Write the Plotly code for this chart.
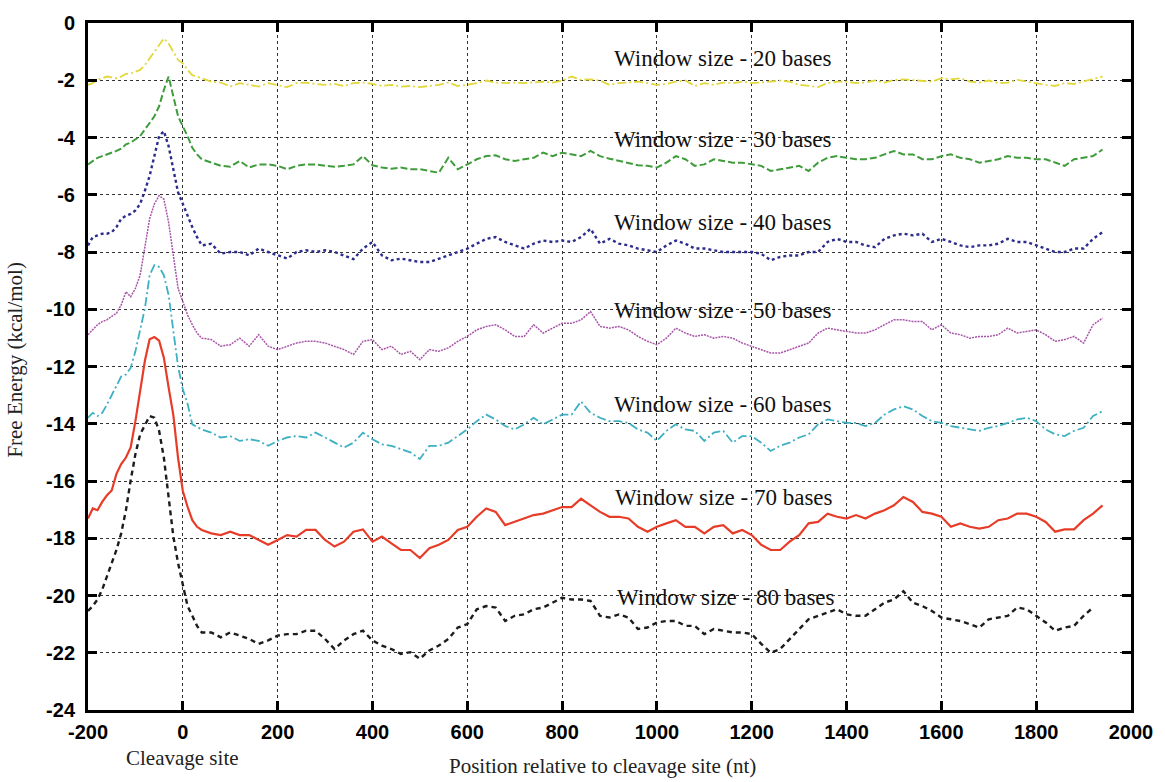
import plotly.graph_objects as go

# Positions relative to the cleavage site (nt): 10-nt steps around the peak, 20-nt steps after
POS_NEAR = list(range(-200, 41, 10))
POS_FAR = list(range(60, 1941, 20))
POSITIONS = POS_NEAR + POS_FAR

W20 = [-2.16, -2.10, -1.99, -1.93, -1.87, -1.90, -1.93, -1.87, -1.78, -1.76,
       -1.70, -1.64, -1.47, -1.24, -1.01, -0.77, -0.54, -0.72, -1.01, -1.29,
       -1.41, -1.64, -1.82, -1.87, -1.93,
       -2.05, -2.08, -2.22, -2.10, -2.16, -2.22, -2.10, -2.16, -2.24, -2.10,
       -2.08, -2.13, -2.16, -2.13, -2.20, -2.10, -2.08, -2.13, -2.20, -2.16,
       -2.22, -2.20, -2.24, -2.20, -2.16, -2.08, -2.20, -2.16, -2.10, -2.01,
       -2.08, -2.10, -2.08, -2.10, -2.08, -2.05, -2.08, -2.01, -1.87, -1.99,
       -1.97, -2.01, -2.16, -2.10, -2.08, -2.05, -2.10, -2.16, -2.13, -2.05,
       -2.01, -2.20, -2.10, -2.16, -2.08, -2.10, -2.05, -2.10, -2.08, -2.05,
       -2.01, -2.05, -2.16, -2.20, -2.24, -2.10, -2.05, -2.05, -2.10, -2.08,
       -2.01, -2.08, -1.99, -1.97, -1.99, -2.01, -2.05, -1.93, -1.97, -1.93,
       -2.05, -2.08, -2.01, -2.10, -2.08, -1.99, -2.05, -2.10, -2.16, -2.20,
       -2.10, -2.13, -2.05, -1.97, -1.87]

W30 = [-4.94, -4.82, -4.71, -4.65, -4.59, -4.55, -4.47, -4.39, -4.24, -4.18,
       -4.07, -3.95, -3.72, -3.49, -3.26, -2.91, -2.34, -1.87, -2.57, -3.26,
       -3.61, -3.95, -4.36, -4.59, -4.76,
       -4.88, -4.99, -5.02, -4.82, -5.05, -4.94, -4.94, -4.99, -5.11, -4.99,
       -4.94, -4.94, -4.99, -5.02, -4.99, -4.94, -4.65, -4.97, -5.05, -5.09,
       -5.05, -5.11, -5.11, -5.17, -5.23, -4.71, -5.11, -4.94, -4.76, -4.65,
       -4.62, -4.76, -4.82, -4.76, -4.71, -4.53, -4.65, -4.53, -4.59, -4.65,
       -4.47, -4.65, -4.74, -4.82, -4.88, -4.97, -4.99, -5.05, -4.88, -4.65,
       -4.76, -4.99, -4.94, -4.76, -4.82, -4.88, -4.88, -4.94, -4.99, -5.17,
       -5.11, -5.05, -4.99, -5.17, -4.88, -4.71, -4.65, -4.71, -4.76, -4.76,
       -4.71, -4.59, -4.47, -4.59, -4.59, -4.76, -4.76, -4.65, -4.59, -4.71,
       -4.76, -4.88, -4.82, -4.76, -4.65, -4.71, -4.71, -4.76, -4.76, -4.88,
       -4.99, -4.76, -4.71, -4.65, -4.42]

W40 = [-7.77, -7.48, -7.42, -7.36, -7.36, -7.31, -7.13, -6.84, -6.73, -6.67,
       -6.55, -6.32, -5.86, -5.34, -4.65, -3.95, -3.78, -4.30, -5.11, -5.92,
       -6.32, -6.73, -7.13, -7.48, -7.77,
       -7.71, -8.06, -8.00, -8.00, -8.12, -7.88, -8.00, -8.12, -8.23, -8.00,
       -7.94, -8.00, -7.94, -8.00, -8.12, -8.25, -7.88, -7.65, -8.12, -8.29,
       -8.23, -8.29, -8.35, -8.35, -8.23, -8.12, -8.00, -7.88, -7.71, -7.54,
       -7.48, -7.65, -7.77, -7.88, -7.71, -7.60, -7.65, -7.60, -7.65, -7.48,
       -7.19, -7.71, -7.54, -7.71, -7.77, -7.88, -7.94, -8.00, -7.77, -7.60,
       -7.71, -7.88, -7.88, -7.94, -8.00, -8.00, -8.00, -8.00, -8.06, -8.29,
       -8.17, -8.12, -8.12, -8.00, -8.00, -7.65, -7.54, -7.65, -7.65, -7.77,
       -7.83, -7.54, -7.42, -7.36, -7.42, -7.36, -7.65, -7.54, -7.65, -7.77,
       -7.83, -7.77, -7.77, -7.71, -7.54, -7.65, -7.65, -7.77, -7.88, -8.00,
       -8.00, -7.88, -7.88, -7.54, -7.31]

W50 = [-10.89, -10.72, -10.54, -10.43, -10.37, -10.25, -10.14, -9.85, -9.39, -9.56,
       -9.27, -8.81, -7.77, -6.84, -6.32, -6.03, -6.15, -6.96, -8.12, -9.27,
       -9.73, -10.20, -10.54, -10.83, -11.01,
       -11.06, -11.29, -11.24, -11.01, -11.29, -10.89, -11.29, -11.41, -11.29, -11.18,
       -11.12, -11.12, -11.18, -11.29, -11.41, -11.58, -11.12, -11.06, -11.41, -11.29,
       -11.58, -11.47, -11.76, -11.41, -11.47, -11.35, -11.12, -10.95, -10.72, -10.60,
       -10.54, -10.72, -10.95, -10.95, -10.54, -10.83, -10.66, -10.49, -10.49, -10.37,
       -10.08, -10.60, -10.66, -10.60, -10.72, -10.95, -11.12, -11.24, -11.01, -10.66,
       -10.83, -10.95, -10.89, -11.01, -10.95, -11.01, -11.18, -11.29, -11.41, -11.53,
       -11.53, -11.41, -11.29, -11.18, -10.83, -10.66, -10.72, -10.77, -10.83, -10.83,
       -10.72, -10.54, -10.37, -10.37, -10.43, -10.43, -10.72, -10.54, -10.83, -10.89,
       -11.01, -10.95, -10.95, -10.89, -10.66, -10.83, -10.77, -10.72, -10.89, -11.12,
       -11.06, -10.95, -11.18, -10.54, -10.31]

W60 = [-13.79, -13.62, -13.73, -13.62, -13.33, -12.99, -12.64, -12.35, -12.28, -12.05,
       -11.47, -10.77, -9.97, -8.81, -8.46, -8.52, -8.81, -9.50, -10.80, -12.00,
       -12.80, -13.30, -14.02, -14.10, -14.20,
       -14.31, -14.48, -14.43, -14.60, -14.54, -14.60, -14.77, -14.60, -14.48, -14.43,
       -14.48, -14.31, -14.48, -14.66, -14.83, -14.66, -14.31, -14.54, -14.72, -14.77,
       -14.89, -15.00, -15.23, -14.77, -14.77, -14.66, -14.43, -14.20, -13.91, -13.68,
       -13.85, -14.08, -14.20, -14.02, -13.79, -14.02, -13.85, -13.68, -13.68, -13.22,
       -13.62, -13.79, -13.91, -13.91, -13.97, -14.20, -14.31, -14.60, -14.25, -14.02,
       -14.20, -14.25, -14.60, -14.31, -14.25, -14.66, -14.43, -14.43, -14.66, -14.95,
       -14.77, -14.66, -14.48, -14.37, -14.02, -13.85, -13.91, -13.97, -13.97, -14.08,
       -13.97, -13.68, -13.50, -13.39, -13.50, -13.73, -13.91, -13.97, -14.08, -14.14,
       -14.20, -14.25, -14.14, -14.08, -13.97, -13.85, -13.79, -13.91, -14.20, -14.37,
       -14.43, -14.25, -14.14, -13.73, -13.56]

W70 = [-17.31, -16.96, -17.02, -16.73, -16.50, -16.33, -15.75, -15.41, -15.18, -14.83,
       -13.91, -12.87, -11.80, -11.05, -10.97, -11.10, -11.69, -12.73, -13.70, -15.20,
       -16.35, -16.90, -17.37, -17.60, -17.71,
       -17.83, -17.89, -17.77, -17.89, -17.89, -18.06, -18.23, -18.06, -17.89, -17.94,
       -17.71, -17.71, -18.06, -18.29, -18.12, -17.77, -17.69, -18.12, -17.94, -18.18,
       -18.41, -18.41, -18.69, -18.35, -18.23, -18.06, -17.71, -17.60, -17.25, -16.96,
       -17.08, -17.54, -17.43, -17.31, -17.19, -17.14, -17.02, -16.91, -16.91, -16.62,
       -16.85, -17.08, -17.25, -17.25, -17.31, -17.60, -17.77, -17.60, -17.48, -17.37,
       -17.60, -17.60, -17.83, -17.60, -17.54, -17.83, -17.71, -17.89, -18.23, -18.41,
       -18.41, -18.12, -17.89, -17.48, -17.43, -17.14, -17.25, -17.31, -17.19, -17.31,
       -17.14, -17.02, -16.85, -16.56, -16.73, -17.08, -17.14, -17.25, -17.60, -17.48,
       -17.60, -17.66, -17.60, -17.37, -17.31, -17.14, -17.14, -17.25, -17.43, -17.77,
       -17.69, -17.69, -17.37, -17.14, -16.85]

W80 = [-20.54, -20.37, -20.14, -19.79, -19.33, -18.87, -18.41, -17.83, -17.02, -15.98,
       -15.06, -14.37, -14.02, -13.73, -13.79, -14.25, -15.18, -16.56, -17.94, -18.87,
       -19.67, -20.37, -20.71, -21.06, -21.29,
       -21.29, -21.46, -21.29, -21.40, -21.52, -21.69, -21.57, -21.40, -21.35, -21.35,
       -21.23, -21.23, -21.52, -21.87, -21.57, -21.35, -21.23, -21.57, -21.75, -21.87,
       -22.04, -21.98, -22.21, -21.92, -21.75, -21.52, -21.12, -21.00, -20.48, -20.37,
       -20.42, -20.89, -20.71, -20.66, -20.48, -20.42, -20.25, -20.08, -20.14, -20.14,
       -20.19, -20.71, -20.77, -20.66, -20.77, -21.17, -21.12, -20.94, -20.89, -20.89,
       -21.06, -21.06, -21.35, -21.17, -21.23, -21.29, -21.29, -21.35, -21.69, -22.00,
       -21.87, -21.52, -21.17, -20.83, -20.71, -20.60, -20.48, -20.66, -20.71, -20.71,
       -20.48, -20.25, -20.14, -19.85, -20.25, -20.37, -20.54, -20.77, -20.83, -20.89,
       -21.00, -21.12, -20.83, -20.77, -20.71, -20.42, -20.48, -20.71, -20.94, -21.23,
       -21.12, -21.06, -20.71, -20.42]

SERIES = [
    ("Window size - 20 bases", W20, "#e2d83c", "9px,3px,2px,3px", 1.8),
    ("Window size - 30 bases", W30, "#3f9c3a", "7px,3px", 2.0),
    ("Window size - 40 bases", W40, "#2c2c8c", "3px,3px", 2.4),
    ("Window size - 50 bases", W50, "#a855a8", "2px,1px", 1.5),
    ("Window size - 60 bases", W60, "#3eb0c4", "9px,3px,2px,3px", 1.8),
    ("Window size - 70 bases", W70, "#e63c28", "solid", 2.2),
    ("Window size - 80 bases", W80, "#1c1c1c", "5px,4px", 2.4),
]

# Label anchor (left edge x, centre y) for each series
LABEL_X = [905, 905, 905, 905, 905, 908, 912]
LABEL_Y = [-1.25, -4.08, -6.97, -10.03, -13.34, -16.57, -20.08]

X_TICKS = list(range(-200, 2001, 200))
Y_TICKS = list(range(-24, 1, 2))
X_TICK_TEXT = [str(v) for v in X_TICKS]
Y_TICK_TEXT = [str(v) for v in Y_TICKS]

SERIF = "Liberation Serif, Times New Roman, serif"

fig = go.Figure()
for name, vals, color, dash, width in SERIES:
    fig.add_trace(go.Scatter(
        x=POSITIONS[:len(vals)], y=vals, mode="lines", name=name,
        line=dict(color=color, dash=dash, width=width),
    ))

for (name, *_), lx, ly in zip(SERIES, LABEL_X, LABEL_Y):
    fig.add_annotation(x=lx, y=ly, xref="x", yref="y", text=name,
                       showarrow=False, xanchor="left", yanchor="middle",
                       font=dict(family=SERIF, size=23, color="#111"))

tick_font = dict(family="Liberation Sans, Arial, sans-serif",
                 size=20, color="#000", weight="bold")
axis_common = dict(showline=True, linecolor="#000", linewidth=3, mirror="ticks",
                   ticks="inside", ticklen=9, tickwidth=3, tickcolor="#000",
                   showgrid=True, gridcolor="#333", griddash="dot", gridwidth=1.3,
                   zeroline=False, tickfont=tick_font)

fig.update_xaxes(range=[-200, 2000], tickvals=X_TICKS, ticktext=X_TICK_TEXT,
                 ticklabelstandoff=2, **axis_common)
fig.update_yaxes(range=[-24, 0], tickvals=Y_TICKS, ticktext=Y_TICK_TEXT,
                 ticklabelstandoff=6, **axis_common)

fig.add_annotation(x=0, y=-0.070, xref="x", yref="paper", text="Cleavage site",
                   showarrow=False, xanchor="center", yanchor="middle",
                   font=dict(family=SERIF, size=21, color="#222"))
fig.add_annotation(x=0.493, y=-0.081, xref="paper", yref="paper",
                   text="Position relative to cleavage site (nt)",
                   showarrow=False, xanchor="center", yanchor="middle",
                   font=dict(family=SERIF, size=21, color="#222"))
fig.add_annotation(x=-0.07, y=0.51, xref="paper", yref="paper",
                   text="Free Energy (kcal/mol)", textangle=-90,
                   showarrow=False, xanchor="center", yanchor="middle",
                   font=dict(family=SERIF, size=21, color="#222"))

fig.update_layout(
    width=1165, height=782,
    margin=dict(l=88, r=34, t=18, b=72),
    paper_bgcolor="#fff", plot_bgcolor="#fff",
    showlegend=False,
)

fig.write_html("out.html")
